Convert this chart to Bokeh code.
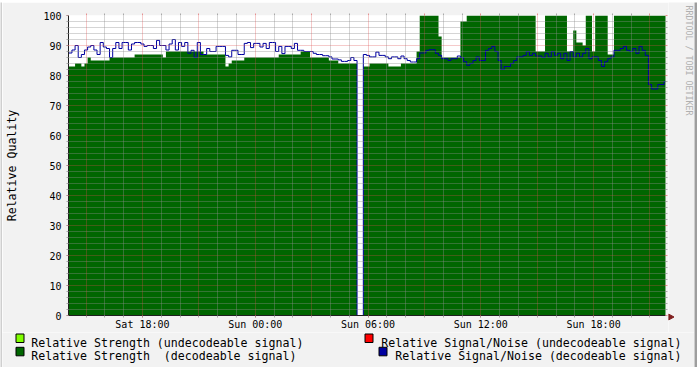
from datetime import datetime, timedelta
from bokeh.plotting import figure
from bokeh.layouts import column, row
from bokeh.models import (Range1d, FixedTicker, DatetimeTickFormatter, Grid,
                          LinearAxis, DatetimeAxis)
from bokeh.core.properties import value
from bokeh.embed import file_html
from bokeh.resources import INLINE

# ---------------- data (RRD samples, one every 10 minutes) ----------------
FIRST_SAMPLE = datetime(2009, 3, 7, 14, 5)   # Saturday 14:05
STEP_MIN = 10
VIEW_START = datetime(2009, 3, 7, 14, 4)
VIEW_END = datetime(2009, 3, 8, 21, 49, 30)

strength_decodeable = [
    83, 83, 84, 84, 83, 84,
    86, 85, 85, 85, 85, 85, 85,
    86, 86, 86, 86, 86, 86, 86, 86,
    87, 87, 87, 87, 87, 87, 87, 87, 87,
    86,
    88, 88, 88, 88, 88, 88, 88, 88, 88, 88, 88, 88,
    87, 87, 87, 87, 87, 87, 87,
    83,
    84, 85, 85, 85, 85,
    86, 86, 86, 86, 86, 86, 86, 86, 86, 86, 86,
    87, 87, 87, 87, 87, 87, 87,
    88, 88, 88,
    86, 86, 86, 86, 86, 86,
    85, 85, 85,
    84, 84, 84, 84, 84, 84,
    0, 0,
    83, 83, 84,
    84, 84, 84, 84, 84,
    83, 83, 83, 83,
    84, 84, 84, 84, 84,
    88,
    100, 100, 100, 100, 100, 100,
    93,
    86, 86, 86, 86, 86, 86,
    98, 98,
    100, 100, 100, 100, 100, 100, 100, 100, 100, 100, 100,
    100, 100, 100, 100, 100, 100, 100, 100, 100, 100, 100,
    88, 88, 88,
    100, 100, 100, 100, 100, 100, 100,
    88, 88,
    95,
    91, 91, 90,
    100, 100,
    88,
    100, 100, 100, 100,
    87, 87,
    100, 100, 100, 100, 100, 100, 100, 100, 100,
    100, 100, 100, 100, 100, 100, 100, 100,
]

snr_decodeable = [
    87.5, 88.5, 90, 86, 87, 88.5, 89.5, 90, 88.5, 87,
    91, 89.5, 89, 86, 89, 91, 89, 91, 91, 88.5,
    90.5, 91, 91, 90.5, 89.7, 90, 90, 89, 91.7, 90,
    90, 88.5, 90.5, 92, 88.5, 91, 89.7, 91, 87.4, 88.4,
    86, 91, 87, 87, 89, 88, 88, 89.7, 89.7, 89.7,
    86.7, 86.2, 88.4, 88.4, 87, 87, 90.7, 91, 89.3, 90.7,
    90.7, 89.5, 90.7, 89, 91, 91, 88, 89.7, 87.3, 89.7,
    89.7, 89, 90.7, 88.4, 88.4, 88, 88, 88, 87.4, 87,
    87, 86.6, 86.6, 86.2, 85.5, 85.5, 85.2, 84.7, 84.7, 85,
    86, 85, 0, 0, 87, 86.7, 86.2, 86.2, 87.8, 86.7,
    86.7, 86.2, 85.6, 86.2, 86.2, 85.6, 86.5, 85.6, 85, 84.5,
    84.5, 85.6, 87.5, 87.5, 88.4, 88.6, 88.6, 87.4, 86.7, 85.6,
    85.6, 85, 85.6, 85.6, 86.5, 86, 84.6, 83.4, 84, 85,
    86.2, 85, 85, 88.4, 89, 89.7, 88, 85, 82, 83,
    83, 84, 85, 86.2, 86.2, 86.7, 88, 86.7, 87.4, 86.5,
    86.5, 86, 87.4, 86.2, 88, 86.7, 87.4, 85.6, 87.4, 85,
    88, 86.2, 87.4, 86.2, 87.4, 89, 85.6, 86.2, 86.2, 85,
    83, 84.6, 85.6, 86.2, 88.4, 88.4, 89, 89.7, 88.4, 88,
    89, 87.4, 89.7, 88.4, 86.7, 77, 75.5, 75.5, 77, 77, 78,
]

y_ticks = [0, 10, 20, 30, 40, 50, 60, 70, 80, 90, 100]
legend_labels = [
    "Relative Strength (undecodeable signal)",
    "Relative Strength  (decodeable signal)",
    "Relative Signal/Noise (undecodeable signal)",
    "Relative Signal/Noise (decodeable signal)",
]
legend_colors = ["#80FF00", "#006600", "#FF0000", "#0000A0"]
watermark = "RRDTOOL / TOBI OETIKER"

# ---------------- helpers ----------------
EPOCH = datetime(1970, 1, 1)


def ms(dt):
    return (dt - EPOCH).total_seconds() * 1000.0


n = len(strength_decodeable)
edges = [ms(FIRST_SAMPLE + timedelta(minutes=STEP_MIN * k)) for k in range(n + 1)]
strength_steps = strength_decodeable + [strength_decodeable[-1]]
snr_steps = snr_decodeable + [snr_decodeable[-1]]

FONT = "DejaVu Sans Mono"
BACK = "#F2F2F2"
SHADEA = "#CFCFCF"
SHADEB = "#9E9E9E"
AXIS = "#1F1F1F"
ARROW = "#801F1F"
GRID = (143, 143, 143, 0.75)
MGRID = (222, 79, 79, 0.6)

W, H = 697, 369
SA, SB = 2, 3            # light (top/left) and dark (right) shade widths
SBB = 2                  # dark bottom shade
INNER_W = W - SA - SB    # 692
MAIN_W = 666
WM_W = INNER_W - MAIN_W
MAIN_H = 330
LEG_H = H - SA - SBB - MAIN_H

# main plot: frame at page x 67..665, y 15..316
LEFT = 67 - SA
TOP = 15 - SA
FW, FH = 598, 301
RIGHT = MAIN_W - LEFT - FW
BOTTOM = MAIN_H - TOP - FH


def plain(w, h, xr, yr, color):
    f = figure(width=w, height=h, toolbar_location=None, output_backend="svg",
               x_axis_location=None, y_axis_location=None, title=None,
               min_border=0, min_border_left=0, min_border_right=0,
               min_border_top=0, min_border_bottom=0,
               x_range=Range1d(*xr), y_range=Range1d(*yr))
    f.border_fill_color = color
    f.background_fill_color = color
    f.outline_line_color = None
    f.grid.visible = False
    return f


def strip(w, h, color):
    return plain(w, h, (0, 1), (0, 1), color)


p = figure(width=MAIN_W, height=MAIN_H, output_backend="svg", toolbar_location=None,
           x_axis_type="datetime",
           x_range=Range1d(ms(VIEW_START), ms(VIEW_END)),
           y_range=Range1d(0, 100),
           min_border_left=LEFT, min_border_right=RIGHT,
           min_border_top=TOP, min_border_bottom=BOTTOM)
p.border_fill_color = BACK
p.background_fill_color = "#FFFFFF"
p.outline_line_color = None
p.xgrid.visible = False
p.ygrid.visible = False

# data
p.varea_step(x=edges, y1=0, y2=strength_steps, step_mode="after",
             fill_color="#006600", fill_alpha=1.0)
p.step(x=edges, y=snr_steps, mode="after", line_color="#0000A0", line_width=1)

# grid
hours = [VIEW_START.replace(minute=0) + timedelta(hours=h) for h in range(1, 33)]
hours = [h for h in hours if VIEW_START <= h <= VIEW_END]
major_hours = [ms(h) for h in hours if h.hour % 3 == 0]
minor_hours = [ms(h) for h in hours if h.hour % 3 != 0]
label_hours = [ms(h) for h in hours if h.hour % 6 == 0]
minor_y = [v for v in range(0, 101, 2) if v % 10 != 0]
major_y = [v for v in y_ticks if v > 0]

for dim, ticks, col in [(0, minor_hours, GRID), (1, minor_y, GRID),
                        (0, major_hours, MGRID), (1, major_y, MGRID)]:
    p.add_layout(Grid(dimension=dim, ticker=FixedTicker(ticks=ticks), grid_line_color=col,
                      grid_line_dash="1 1", grid_line_width=1, level="guide"))

# axes
fmt = "%a %H:%M"
xa = p.xaxis[0]
xa.ticker = FixedTicker(ticks=label_hours, minor_ticks=[ms(h) for h in hours])
xa.formatter = DatetimeTickFormatter(microseconds=fmt, milliseconds=fmt, seconds=fmt,
                                     minsec=fmt, minutes=fmt, hourmin=fmt, hours=fmt,
                                     days=fmt, months=fmt, years=fmt)
ya = p.yaxis[0]
ya.ticker = FixedTicker(ticks=y_ticks, minor_ticks=list(range(0, 101, 2)))
ya.axis_label = "Relative Quality"
ya.axis_label_text_font = FONT
ya.axis_label_text_font_size = "11.6px"
ya.axis_label_text_font_style = "normal"
ya.axis_label_text_color = "#000000"
ya.axis_label_standoff = 21

# tick-only axes on the opposite sides (rrdtool marks grid lines on both frame edges)
ta = DatetimeAxis(ticker=FixedTicker(ticks=major_hours, minor_ticks=minor_hours))
ta.major_label_overrides = {t: "" for t in major_hours}
ra = LinearAxis(ticker=FixedTicker(ticks=y_ticks, minor_ticks=minor_y))
ra.major_label_overrides = {t: "" for t in y_ticks}
for ax in (ta, ra):
    ax.axis_line_color = None
    ax.major_label_text_font_size = "1px"
    ax.major_label_text_color = None
    ax.major_label_standoff = 0
p.add_layout(ta, "above")
p.add_layout(ra, "right")

for ax in (xa, ya, ta, ra):
    ax.major_tick_in = 0
    ax.minor_tick_in = 0
    ax.major_tick_out = 2
    ax.minor_tick_out = 2
    ax.major_tick_line_color = MGRID
    ax.minor_tick_line_color = GRID
for ax in (xa, ya):
    ax.axis_line_color = AXIS
    ax.major_label_text_font = FONT
    ax.major_label_text_font_size = "10px"
    ax.major_label_text_color = "#000000"
xa.major_label_standoff = 1
ya.major_label_standoff = 5

# right column (page x 668..694): x-axis arrow head and the watermark
X0 = SA + MAIN_W
wm = plain(WM_W, MAIN_H, (X0, X0 + WM_W), (SA + MAIN_H, SA), BACK)
wm.patch(x=[X0, X0 + 5.5, X0], y=[313.5, 316.5, 319.5], fill_color=ARROW,
         line_color=ARROW, line_width=1)
wm.text(x=[688.5], y=[60], text=[watermark], angle=-1.5708,
        text_font=value(FONT), text_font_size=value("8.3px"), text_color="#B0B0B0",
        text_align="center", text_baseline="middle")

# legend strip (page y 332..367), drawn in page pixel coordinates
LEG_TOP = SA + MAIN_H
leg = plain(INNER_W, LEG_H, (SA, SA + INNER_W), (LEG_TOP + LEG_H, LEG_TOP), BACK)

rows_y = [342.0, 355.6]
sq_top = [333.5, 346.8]
left_text_x = 30.7
right_text_end = 681.0
CH = 7.0
lx, ly, lt = [], [], []
rx, ry, rt = [], [], []
ql, qr, qt, qb, qc = [], [], [], [], []
for k, (text, color) in enumerate(zip(legend_labels, legend_colors)):
    r = k % 2
    shown = text.replace("  ", " \u00a0")   # keep the double space visible
    if k < 2:
        lx.append(left_text_x); ly.append(rows_y[r]); lt.append(shown)
        start = left_text_x
    else:
        rx.append(right_text_end); ry.append(rows_y[r]); rt.append(shown)
        start = right_text_end - CH * len(text)
    sl = round(start - 15.7) + 0.5
    ql.append(sl); qr.append(sl + 8); qt.append(sq_top[r]); qb.append(sq_top[r] + 8.5)
    qc.append(color)

leg.quad(left=ql, right=qr, top=qt, bottom=qb, fill_color=qc, line_color="#000000",
         line_width=1)
leg.text(x=lx, y=ly, text=lt, text_font=value(FONT), text_font_size=value("11.6px"),
         text_color="#000000", text_align="left", text_baseline="alphabetic")
leg.text(x=rx, y=ry, text=rt, text_font=value(FONT), text_font_size=value("11.6px"),
         text_color="#000000", text_align="right", text_baseline="alphabetic")

layout = column(
    strip(W, SA, SHADEA),
    row(strip(SA, MAIN_H + LEG_H, SHADEA),
        column(row(p, column(wm)), leg),
        strip(SB, MAIN_H + LEG_H, SHADEB)),
    strip(W, SBB, SHADEB),
)

open("out.html", "w").write(file_html(layout, INLINE))
